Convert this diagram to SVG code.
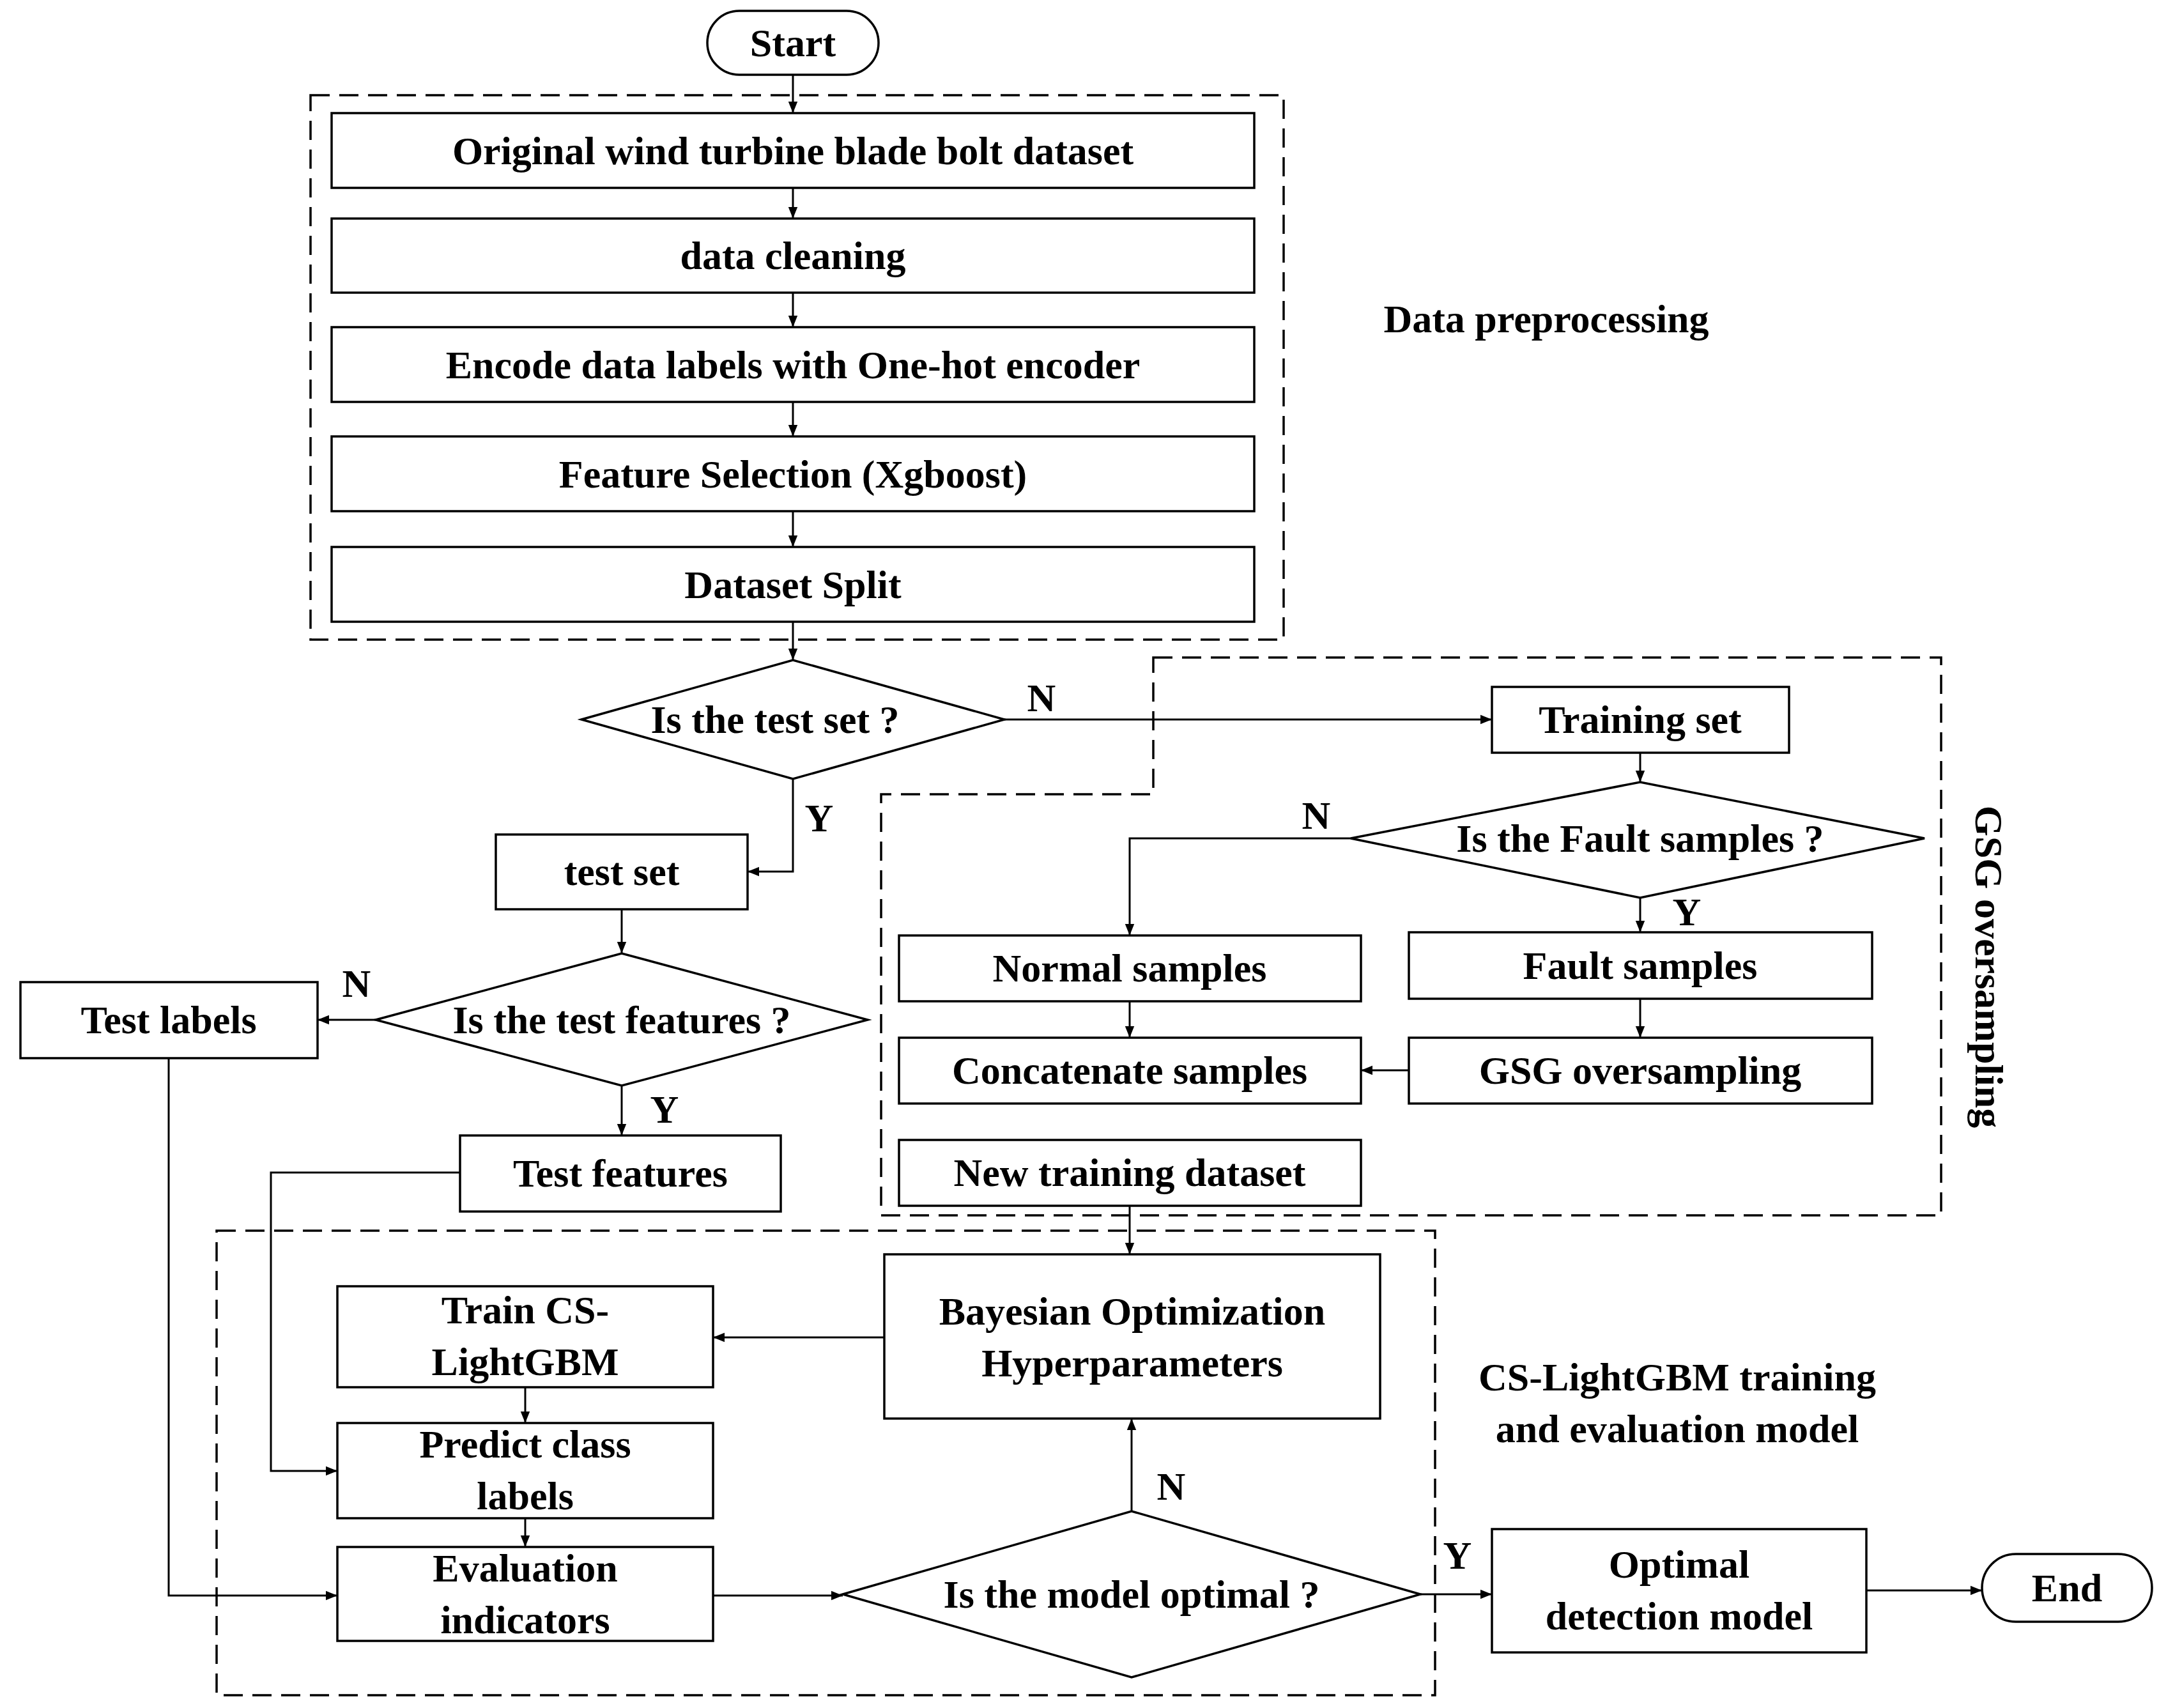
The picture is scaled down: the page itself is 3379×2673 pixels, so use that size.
<svg xmlns="http://www.w3.org/2000/svg" width="3379" height="2673" viewBox="0 0 3379 2673">
<style>
.b{fill:#fff;stroke:#000;stroke-width:3.5}
.d{fill:none;stroke:#000;stroke-width:3.5;stroke-dasharray:30 15}
.c{fill:none;stroke:#000;stroke-width:3}
text{font-family:"Liberation Serif","Times New Roman",serif;font-weight:bold;font-size:62px;text-anchor:middle;dominant-baseline:central}
</style>
<defs><marker id="a" viewBox="0 0 10 10" refX="10" refY="5" markerWidth="6" markerHeight="6" orient="auto"><path d="M0,1 L10,5 L0,9 z"/></marker></defs>
<rect width="3379" height="2673" fill="#fff"/>
<g id="regions">
<rect class="d" x="486" y="149" width="1523" height="852"/>
<path class="d" d="M1805,1029 H3038 V1902 H1379 V1243 H1805 Z"/>
<rect class="d" x="339" y="1926" width="1907" height="727"/>
<text x="2420" y="499">Data preprocessing</text>
<text x="3113" y="1513" transform="rotate(90 3113 1513)">GSG oversampling</text>
<text x="2625" y="2155">CS-LightGBM training</text>
<text x="2625" y="2236">and evaluation model</text>
</g>
<g id="connectors">
<path class="c" marker-end="url(#a)" d="M1241,117 V177"/>
<path class="c" marker-end="url(#a)" d="M1241,294 V342"/>
<path class="c" marker-end="url(#a)" d="M1241,458 V512"/>
<path class="c" marker-end="url(#a)" d="M1241,629 V683"/>
<path class="c" marker-end="url(#a)" d="M1241,800 V856"/>
<path class="c" marker-end="url(#a)" d="M1241,973 V1033"/>
<path class="c" marker-end="url(#a)" d="M1572,1126 H2335"/>
<path class="c" marker-end="url(#a)" d="M2567,1178 V1224"/>
<path class="c" marker-end="url(#a)" d="M2114,1312 H1768 V1464"/>
<path class="c" marker-end="url(#a)" d="M2567,1405 V1459"/>
<path class="c" marker-end="url(#a)" d="M2567,1563 V1624"/>
<path class="c" marker-end="url(#a)" d="M2205,1675 H2130"/>
<path class="c" marker-end="url(#a)" d="M1768,1567 V1624"/>
<path class="c" marker-end="url(#a)" d="M1768,1887 V1963"/>
<path class="c" marker-end="url(#a)" d="M1241,1219 V1364 H1170"/>
<path class="c" marker-end="url(#a)" d="M973,1423 V1492"/>
<path class="c" marker-end="url(#a)" d="M588,1596 H497"/>
<path class="c" marker-end="url(#a)" d="M973,1699 V1777"/>
<path class="c" marker-end="url(#a)" d="M720,1835 H424 V2302 H528"/>
<path class="c" marker-end="url(#a)" d="M264,1656 V2497 H528"/>
<path class="c" marker-end="url(#a)" d="M1384,2093 H1116"/>
<path class="c" marker-end="url(#a)" d="M822,2171 V2227"/>
<path class="c" marker-end="url(#a)" d="M822,2376 V2421"/>
<path class="c" marker-end="url(#a)" d="M1116,2497 H1319"/>
<path class="c" marker-end="url(#a)" d="M1771,2365 V2220"/>
<path class="c" marker-end="url(#a)" d="M2223,2495 H2335"/>
<path class="c" marker-end="url(#a)" d="M2921,2489 H3102"/>
<text x="1630" y="1092">N</text>
<text x="1282" y="1280">Y</text>
<text x="2060" y="1276">N</text>
<text x="2640" y="1427">Y</text>
<text x="558" y="1539">N</text>
<text x="1040" y="1736">Y</text>
<text x="1833" y="2326">N</text>
<text x="2281" y="2434">Y</text>
</g>
<g id="start"><rect class="b" x="1107" y="17" width="268" height="100" rx="50"/><text x="1241" y="67">Start</text></g>
<g id="n1"><rect class="b" x="519" y="177" width="1444" height="117"/><text x="1241" y="236">Original wind turbine blade bolt dataset</text></g>
<g id="n2"><rect class="b" x="519" y="342" width="1444" height="116"/><text x="1241" y="400">data cleaning</text></g>
<g id="n3"><rect class="b" x="519" y="512" width="1444" height="117"/><text x="1241" y="571">Encode data labels with One-hot encoder</text></g>
<g id="n4"><rect class="b" x="519" y="683" width="1444" height="117"/><text x="1241" y="742">Feature Selection (Xgboost)</text></g>
<g id="n5"><rect class="b" x="519" y="856" width="1444" height="117"/><text x="1241" y="915">Dataset Split</text></g>
<g id="d1"><polygon class="b" points="910,1126 1241,1033 1572,1126 1241,1219"/><text x="1213" y="1126">Is the test set ?</text></g>
<g id="train"><rect class="b" x="2335" y="1075" width="465" height="103"/><text x="2567" y="1126">Training set</text></g>
<g id="d2"><polygon class="b" points="2114,1312 2567,1224 3012,1312 2567,1405"/><text x="2567" y="1312">Is the Fault samples ?</text></g>
<g id="normal"><rect class="b" x="1407" y="1464" width="723" height="103"/><text x="1768" y="1515">Normal samples</text></g>
<g id="fault"><rect class="b" x="2205" y="1459" width="725" height="104"/><text x="2567" y="1511">Fault samples</text></g>
<g id="concat"><rect class="b" x="1407" y="1624" width="723" height="103"/><text x="1768" y="1675">Concatenate samples</text></g>
<g id="gsg"><rect class="b" x="2205" y="1624" width="725" height="103"/><text x="2567" y="1675">GSG oversampling</text></g>
<g id="newtrain"><rect class="b" x="1407" y="1784" width="723" height="103"/><text x="1768" y="1835">New training dataset</text></g>
<g id="testset"><rect class="b" x="776" y="1306" width="394" height="117"/><text x="973" y="1364">test set</text></g>
<g id="d3"><polygon class="b" points="588,1596 973,1492 1358,1596 973,1699"/><text x="973" y="1596">Is the test features ?</text></g>
<g id="testlabels"><rect class="b" x="32" y="1537" width="465" height="119"/><text x="264" y="1596">Test labels</text></g>
<g id="testfeat"><rect class="b" x="720" y="1777" width="502" height="119"/><text x="971" y="1836">Test features</text></g>
<g id="bayes"><rect class="b" x="1384" y="1963" width="776" height="257"/><text x="1772" y="2052">Bayesian Optimization</text><text x="1772" y="2133">Hyperparameters</text></g>
<g id="trainlgbm"><rect class="b" x="528" y="2013" width="588" height="158"/><text x="822" y="2050">Train CS-</text><text x="822" y="2131">LightGBM</text></g>
<g id="predict"><rect class="b" x="528" y="2227" width="588" height="149"/><text x="822" y="2260">Predict class</text><text x="822" y="2341">labels</text></g>
<g id="eval"><rect class="b" x="528" y="2421" width="588" height="147"/><text x="822" y="2454">Evaluation</text><text x="822" y="2535">indicators</text></g>
<g id="d4"><polygon class="b" points="1319,2495 1771,2365 2223,2495 1771,2625"/><text x="1771" y="2495">Is the model optimal ?</text></g>
<g id="optimal"><rect class="b" x="2335" y="2393" width="586" height="193"/><text x="2628" y="2448">Optimal</text><text x="2628" y="2529">detection model</text></g>
<g id="end"><rect class="b" x="3102" y="2432" width="266" height="106" rx="53"/><text x="3235" y="2485">End</text></g>
</svg>
